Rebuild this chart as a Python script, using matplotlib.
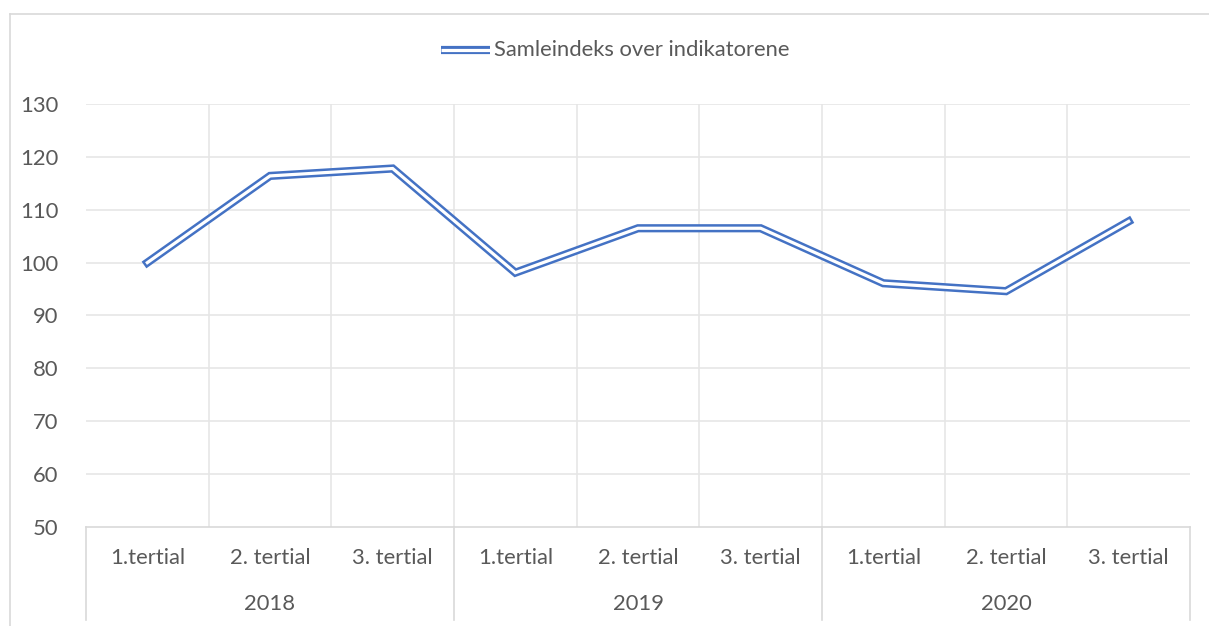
import matplotlib
matplotlib.use("Agg")
import matplotlib.pyplot as plt
import matplotlib.patheffects as pe
from matplotlib.lines import Line2D

plt.rcParams['font.family'] = ['Lato', 'DejaVu Sans']

years = ["2018", "2019", "2020"]
periods = ["1.tertial", "2. tertial", "3. tertial"]
values = [100.0, 116.4, 117.8, 98.1, 106.5, 106.5, 96.1, 94.6, 107.8]
series_name = "Samleindeks over indikatorene"
yticks = [50, 60, 70, 80, 90, 100, 110, 120, 130]

W, H = 1209, 626
fig = plt.figure(figsize=(W / 100, H / 100), dpi=100)
fig.patch.set_facecolor("white")

# outer chart border (left and top visible)
fig.add_artist(Line2D([10 / W, 10 / W], [0, 1 - 14 / H], color="#D9D9D9", lw=1.2))
fig.add_artist(Line2D([10 / W, 1], [1 - 14 / H, 1 - 14 / H], color="#D9D9D9", lw=1.2))

left, right, top, bottom = 86, 1190, 104, 527
ax = fig.add_axes([left / W, 1 - bottom / H, (right - left) / W, (bottom - top) / H])

n = len(years) * len(periods)
xs = list(range(n))
line_color = "#4472C4"
txt_color = "#595959"
grid_color = "#E6E6E6"
fs = 15.8

effects = [pe.Stroke(linewidth=5.9, foreground=line_color), pe.Normal()]
ax.plot(xs, values, color="white", lw=2.3, solid_joinstyle="miter",
        path_effects=effects, zorder=3)

ax.set_xlim(-0.5, n - 0.5)
ax.set_ylim(50, 130)
ax.set_yticks(yticks)
ax.set_yticklabels([str(v) for v in yticks])
ax.tick_params(axis="y", length=0, pad=20, labelsize=fs, labelcolor=txt_color)
ax.set_xticks([])
for v in yticks[1:]:
    ax.axhline(v, color=grid_color, lw=1.2, zorder=1)
for k in range(1, n):
    ax.axvline(k - 0.5, color=grid_color, lw=1.2, zorder=1)
for s in ["top", "right", "left"]:
    ax.spines[s].set_visible(False)
ax.spines["bottom"].set_color("#D9D9D9")
ax.spines["bottom"].set_linewidth(1.2)

trans = ax.get_xaxis_transform()
cat_y = (bottom - 558) / (bottom - top)
year_y = (bottom - 604) / (bottom - top)
sep_y = (bottom - 620) / (bottom - top)
for i, yr in enumerate(years):
    for j, p in enumerate(periods):
        ax.text(i * 3 + j, cat_y, p, transform=trans, ha="center", va="center",
                fontsize=fs, color=txt_color)
    ax.text(i * 3 + 1, year_y, yr, transform=trans, ha="center", va="center",
            fontsize=fs, color=txt_color)
for k in range(len(years) + 1):
    ax.add_line(Line2D([k * 3 - 0.5, k * 3 - 0.5], [0, sep_y], transform=trans,
                       color="#D9D9D9", lw=1.2, clip_on=False))

# legend
ly = 1 - 50 / H
fig.add_artist(Line2D([441 / W, 490 / W], [ly, ly], color="white", lw=2.3,
                      path_effects=effects, solid_capstyle="butt"))
fig.text(494 / W, ly, series_name, ha="left", va="center", fontsize=fs, color=txt_color)

fig.savefig("out.png", dpi=100, facecolor="white")
